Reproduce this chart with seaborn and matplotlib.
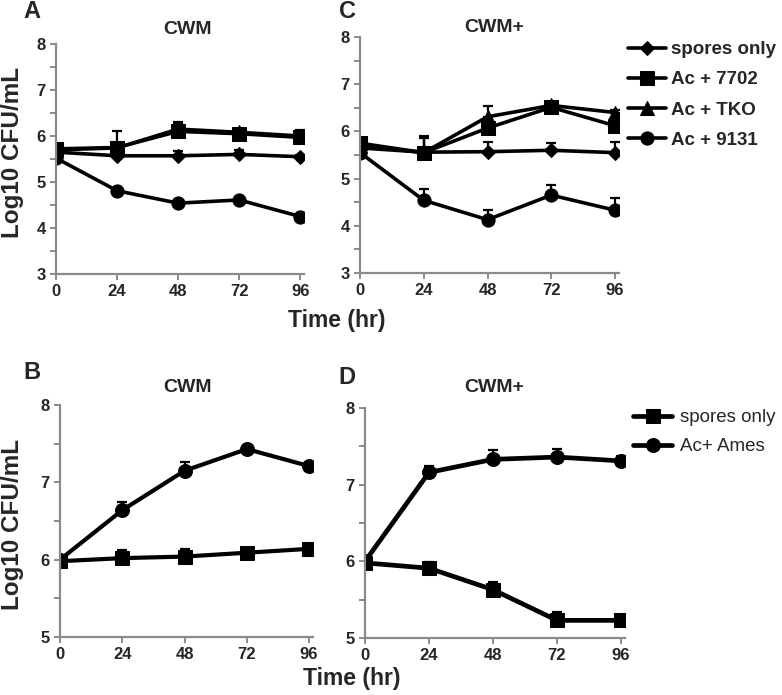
import seaborn as sns
import matplotlib.pyplot as plt
import numpy as np

# shared time points (hr)
times = [0, 24, 48, 72, 96]

# panel A - CWM
a_spores = [5.65, 5.57, 5.57, 5.60, 5.55]
a_7702 = [5.72, 5.75, 6.10, 6.05, 5.97]
a_tko = [5.70, 5.74, 6.15, 6.08, 6.00]
a_9131 = [5.52, 4.81, 4.54, 4.61, 4.25]
a_spores_err = [0.0, 0.05, 0.11, 0.10, 0.03]
a_7702_err = [0.0, 0.35, 0.20, 0.07, 0.16]
a_tko_err = [0.0, 0.05, 0.12, 0.05, 0.10]
a_9131_err = [0.0, 0.03, 0.05, 0.04, 0.03]

# panel C - CWM+
c_spores = [5.65, 5.56, 5.57, 5.60, 5.55]
c_7702 = [5.75, 5.55, 6.07, 6.51, 6.12]
c_tko = [5.70, 5.55, 6.31, 6.55, 6.40]
c_9131 = [5.55, 4.54, 4.13, 4.65, 4.33]
c_spores_err = [0.0, 0.35, 0.20, 0.16, 0.22]
c_7702_err = [0.0, 0.33, 0.15, 0.05, 0.10]
c_tko_err = [0.0, 0.30, 0.22, 0.05, 0.05]
c_9131_err = [0.0, 0.23, 0.20, 0.21, 0.25]

# panel B - CWM
b_spores = [5.98, 6.02, 6.04, 6.09, 6.14]
b_ames = [6.00, 6.64, 7.15, 7.43, 7.21]
b_spores_err = [0.0, 0.10, 0.10, 0.02, 0.02]
b_ames_err = [0.0, 0.10, 0.11, 0.02, 0.02]

# panel D - CWM+
d_spores = [5.98, 5.91, 5.63, 5.23, 5.23]
d_ames = [6.00, 7.16, 7.33, 7.36, 7.31]
d_spores_err = [0.0, 0.08, 0.10, 0.11, 0.02]
d_ames_err = [0.0, 0.08, 0.12, 0.11, 0.07]

labels_top = ['spores only', 'Ac + 7702', 'Ac + TKO', 'Ac + 9131']
labels_bottom = ['spores only', 'Ac+ Ames']

sns.set_style('ticks')
plt.rcParams['font.family'] = ['Liberation Sans', 'DejaVu Sans']
plt.rcParams['font.weight'] = 'bold'

GRAY = '#8a8a8a'


def draw_series(ax, y, err, marker, ms, lw, label):
    sns.lineplot(x=times, y=y, ax=ax, color='black', marker=marker,
                 markersize=ms, linewidth=lw, markeredgecolor='black',
                 label=label, legend=False)
    ax.errorbar(times, y, yerr=[np.zeros(len(err)), err], fmt='none',
                ecolor='black', elinewidth=1.6, capsize=3.5, capthick=1.6)


def style_axes(ax, ylo, yhi):
    ax.set_xlim(0, 97.5)
    ax.set_ylim(ylo, yhi)
    ax.set_xticks(times)
    ax.set_yticks(range(ylo, yhi + 1))
    ax.set_yticks(np.arange(ylo, yhi + 0.01, 0.5), minor=True)
    sns.despine(ax=ax)
    for s in ['left', 'bottom']:
        ax.spines[s].set_color(GRAY)
        ax.spines[s].set_linewidth(1.6)
    ax.tick_params(which='both', color=GRAY, width=1.4, length=4)
    ax.tick_params(labelsize=12)
    ax.set_xlabel('')
    ax.set_ylabel('')


fig = plt.figure(figsize=(7.82, 6.95), dpi=100)
W, H = 782.0, 695.0


def add_ax(l, r, t, b):
    return fig.add_axes([l / W, 1 - b / H, (r - l) / W, (b - t) / H])


axA = add_ax(56, 304, 44, 274)
axC = add_ax(360, 619, 37, 273)
axB = add_ax(60, 313, 405, 637)
axD = add_ax(365, 625, 408, 638)

top_markers = ['D', 's', '^', 'o']
top_sizes = [7, 9.5, 9.5, 9.5]
for ys, es, lab, m, ms in zip([a_spores, a_7702, a_tko, a_9131],
                              [a_spores_err, a_7702_err, a_tko_err, a_9131_err],
                              labels_top, top_markers, top_sizes):
    draw_series(axA, ys, es, m, ms, 2.6, lab)
for ys, es, lab, m, ms in zip([c_spores, c_7702, c_tko, c_9131],
                              [c_spores_err, c_7702_err, c_tko_err, c_9131_err],
                              labels_top, top_markers, top_sizes):
    draw_series(axC, ys, es, m, ms, 2.6, lab)

draw_series(axB, b_spores, b_spores_err, 's', 10, 3, labels_bottom[0])
draw_series(axB, b_ames, b_ames_err, 'o', 10, 3, labels_bottom[1])
draw_series(axD, d_spores, d_spores_err, 's', 10, 3.4, labels_bottom[0])
draw_series(axD, d_ames, d_ames_err, 'o', 10, 3.4, labels_bottom[1])

style_axes(axA, 3, 8)
style_axes(axC, 3, 8)
style_axes(axB, 5, 8)
style_axes(axD, 5, 8)

# legends
h, l = axC.get_legend_handles_labels()
fig.legend(h[:4], l[:4], loc='upper left', bbox_to_anchor=(628 / W, 1 - 41 / H),
           frameon=False, borderpad=0, borderaxespad=0, handlelength=2.0,
           handletextpad=0.3, labelspacing=0.7,
           prop={'weight': 'bold', 'size': 13.5})
h, l = axD.get_legend_handles_labels()
fig.legend(h[:2], l[:2], loc='upper left', bbox_to_anchor=(633 / W, 1 - 409 / H),
           frameon=False, borderpad=0, borderaxespad=0, handlelength=2.1,
           handletextpad=0.4, labelspacing=0.65,
           prop={'weight': 'normal', 'size': 13.5})

# titles, panel letters, axis labels
def ftext(x, y, s, size, **kw):
    fig.text(x / W, 1 - y / H, s, fontsize=size, fontweight='bold',
             ha='center', va='center', **kw)


ftext(32, 12, 'A', 17)
ftext(347, 12, 'C', 17)
ftext(32, 372, 'B', 17)
ftext(347, 377, 'D', 17)
ftext(188, 29, 'CWM', 14)
ftext(494, 28, 'CWM+', 14)
ftext(188, 387, 'CWM', 14)
ftext(494, 387, 'CWM+', 14)
ftext(13, 152, 'Log10 CFU/mL', 17.5, rotation=90)
ftext(13, 524, 'Log10 CFU/mL', 17.5, rotation=90)
ftext(337, 320, 'Time (hr)', 16.5)
ftext(352, 678, 'Time (hr)', 16.5)

fig.savefig('out.png', dpi=100)
